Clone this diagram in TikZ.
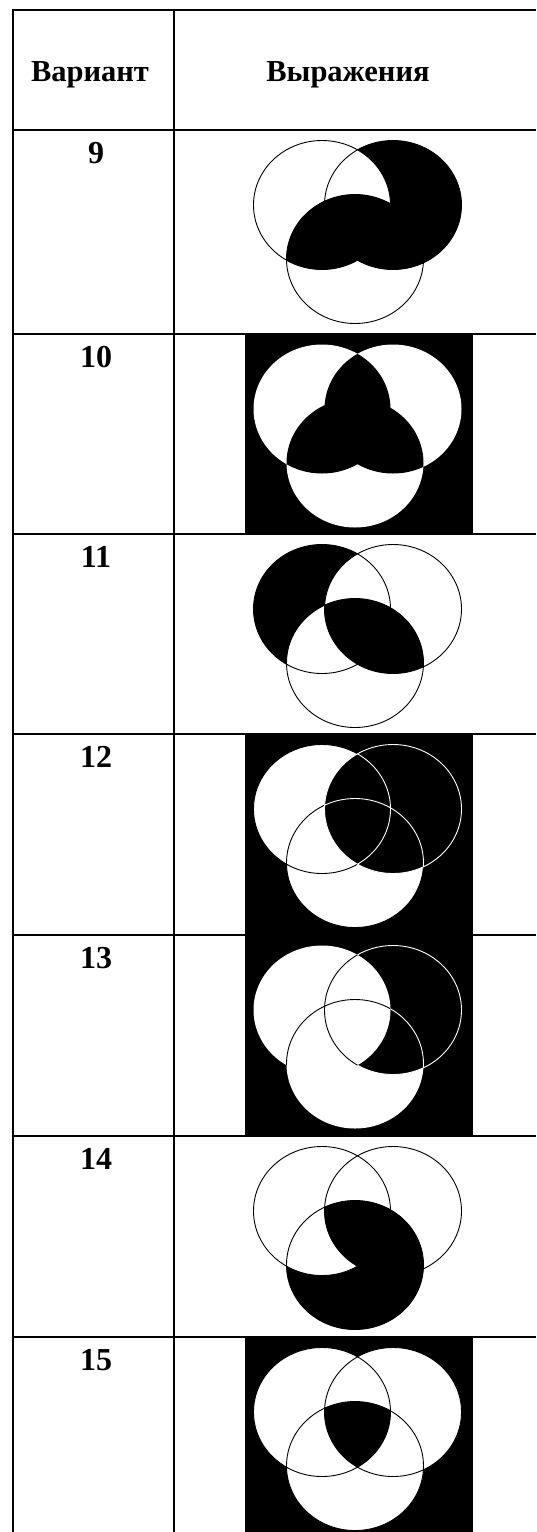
\documentclass[tikz,border=0pt]{standalone}
\usepackage{fontspec}
\setmainfont{Liberation Serif}
\usepackage{tikz}
\usetikzlibrary{positioning}
\tikzset{tabline/.style={line width=1.8pt, draw=black}, headtext/.style={font=\bfseries\fontsize{30.5}{33}\selectfont, inner sep=0pt}, numtext/.style={font=\bfseries\fontsize{32}{34}\selectfont, inner sep=0pt}, venn/.style={x radius=68.5pt, y radius=64.5pt}, vline/.style={line width=0.9pt}}

\begin{document}
\begin{tikzpicture}[x=1pt, y=-1pt]
\useasboundingbox (0,0) rectangle (536,1532);
\foreach \y in {10,130,334,534,734,935,1136,1337}
  \draw[tabline] (12.1,\y) -- (536,\y);
\draw[tabline] (13,9.1) -- (13,1532);
\draw[tabline] (174,9.1) -- (174,1532);
\node[headtext, anchor=base] (hvar) at (90,81) {Вариант};
\node[headtext, anchor=base] (hexp) at (348,81) {Выражения};
\foreach \n/\y in {9/130,10/334,11/534,12/734,13/935,14/1136,15/1337}{
  \coordinate (a\n) at (322,\y+75);
  \coordinate (b\n) at (393,\y+75);
  \coordinate (c\n) at (355,\y+129);
  \node[numtext, anchor=base] (num\n) at (96,\y+33) {\n};
}
\foreach \t/\b in {334/534,734/935,935/1136,1337/1532}
  \fill (245,\t) rectangle (473,\b);
% 9
\fill (b9) ellipse [venn];
\fill[white] (a9) ellipse [venn];
\begin{scope}
\clip (c9) ellipse [venn];
\fill (a9) ellipse [venn] (b9) ellipse [venn];
\end{scope}
\draw[vline] (a9) ellipse [venn] (b9) ellipse [venn] (c9) ellipse [venn];
% 10
\fill[white] (a10) ellipse [venn] (b10) ellipse [venn] (c10) ellipse [venn];
\begin{scope}
\clip (a10) ellipse [venn];
\fill (b10) ellipse [venn] (c10) ellipse [venn];
\end{scope}
\begin{scope}
\clip (b10) ellipse [venn];
\fill (c10) ellipse [venn];
\end{scope}
% 11
\fill (a11) ellipse [venn];
\fill[white] (b11) ellipse [venn] (c11) ellipse [venn];
\begin{scope}
\clip (b11) ellipse [venn];
\fill (c11) ellipse [venn];
\end{scope}
\draw[vline] (a11) ellipse [venn] (b11) ellipse [venn] (c11) ellipse [venn];
% 12
\fill[white] (a12) ellipse [venn] (c12) ellipse [venn];
\draw[vline] (a12) ellipse [venn] (c12) ellipse [venn];
\fill (b12) ellipse [venn];
\draw[vline, white] (b12) ellipse [venn];
\begin{scope}
\clip (b12) ellipse [venn];
\draw[vline, white] (a12) ellipse [venn] (c12) ellipse [venn];
\end{scope}
% 13
\fill[white] (c13) ellipse [venn];
\fill (b13) ellipse [venn];
\draw[vline, white] (b13) ellipse [venn];
\begin{scope}
\clip (b13) ellipse [venn];
\draw[vline, white] (c13) ellipse [venn];
\end{scope}
\fill[white] (a13) ellipse [venn];
\begin{scope}
\clip (a13) ellipse [venn];
\draw[vline] (b13) ellipse [venn] (c13) ellipse [venn];
\end{scope}
% 14
\fill (c14) ellipse [venn];
\begin{scope}
\clip (c14) ellipse [venn];
\fill[white] (a14) ellipse [venn];
\fill (b14) ellipse [venn];
\end{scope}
\draw[vline] (a14) ellipse [venn] (b14) ellipse [venn] (c14) ellipse [venn];
% 15
\fill[white] (a15) ellipse [venn] (b15) ellipse [venn] (c15) ellipse [venn];
\draw[vline] (a15) ellipse [venn] (b15) ellipse [venn] (c15) ellipse [venn];
\begin{scope}
\clip (a15) ellipse [venn];
\clip (b15) ellipse [venn];
\fill (c15) ellipse [venn];
\end{scope}
\end{tikzpicture}
\end{document}
